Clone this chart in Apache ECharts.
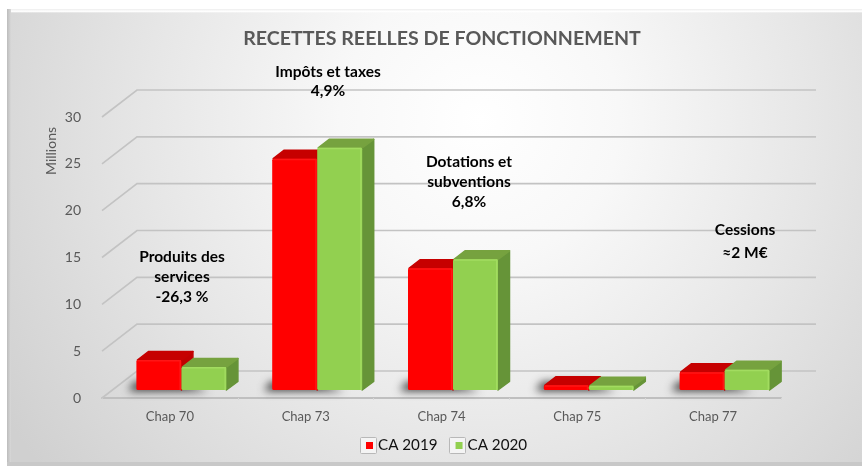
<!DOCTYPE html>
<html><head><meta charset="utf-8">
<style>html,body{margin:0;padding:0;background:#fff}#c{width:862px;height:466px}</style>
<script src="https://cdn.jsdelivr.net/npm/echarts@6/dist/echarts.min.js"></script>
</head><body><div id="c"></div>
<script>
const categories = ['Chap 70','Chap 73','Chap 74','Chap 75','Chap 77'];
const ca2019 = [3.2, 24.7, 13.0, 0.5, 1.9];
const ca2020 = [2.45, 25.85, 13.95, 0.45, 2.15];
const yTicks = [0, 5, 10, 15, 20, 25, 30];
const seriesNames = ['CA 2019', 'CA 2020'];
const titleText = 'RECETTES REELLES DE FONCTIONNEMENT';
const annotations = [
  {lines:['Impôts et taxes','4,9%'], x:328, y:[72,91]},
  {lines:['Dotations et','subventions','6,8%'], x:469, y:[162,182,202]},
  {lines:['Produits des','services','-26,3 %'], x:182, y:[257,277,297]},
  {lines:['Cessions','≈2 M€'], x:745, y:[230,253]}
];
const FONT = 'Lato, "Open Sans", sans-serif';
const DX = 35, DY = -27;          // wall depth
const BW = 45, BDX = 12, BDY = -9; // bar width and depth
const OX = 11.5, OY = -8;          // bar offset inside the floor

const palettes = [
  {front:'#ff0000', top:'#c60000', side:'#c00000', hi:'#ff1616'},
  {front:'#92d050', top:'#76a23f', side:'#669438', hi:'#a2dc60'}
];

function barItem(idx){
  return function(params, api){
    const cat = api.value(0), val = api.value(1);
    const pt = api.coord([cat, val]), base = api.coord([cat, 0]);
    const p = palettes[idx];
    const x = pt[0] + OX + (idx === 0 ? -BW : 0), w = BW;
    const y = pt[1] + OY, b = base[1] + OY, h = b - y;
    const sh = (pts, fill) => ({type:'polygon', shape:{points:pts},
      style:{fill:fill, stroke:fill, lineWidth:1.5, lineJoin:'round'}});
    return {type:'group', children:[
      sh([[x+w,y],[x+w+BDX-0.5,y+BDY+0.5],[x+w+BDX-0.5,b+BDY+0.5],[x+w,b]], p.side),
      sh([[x+1,y],[x+BDX,y+BDY+0.5],[x+w+BDX-0.5,y+BDY+0.5],[x+w,y]], p.top),
      {type:'rect', shape:{x:x,y:y,width:w,height:h,r:1.5}, style:{fill:p.front}},
      {type:'rect', shape:{x:x+1,y:y,width:w-2.5,height:Math.min(1.5,h)}, style:{fill:p.hi}},
      {type:'rect', shape:{x:x+w-2,y:y,width:1.5,height:h}, style:{fill:p.hi}}
    ]};
  };
}
function shadowItem(params, api){
  const base = api.coord([api.value(0), 0]);
  const x = base[0] + OX - BW, b = base[1] + OY;
  const far = 2000; // the shape itself sits off canvas: only its blurred shadow shows
  return {type:'polygon', silent:true,
    shape:{points:[[x-8-far,b+1],[x-2-far,b-8],[x+45-far,b-8],[x+72-far,b+1]]},
    style:{fill:'#000', shadowBlur:9, shadowOffsetX:far, shadowColor:'rgba(0,0,0,0.75)'}};
}
function gridItem(params, api){
  const c = params.coordSys;
  const y = api.coord([0, api.value(0)])[1];
  const x0 = c.x, x1 = c.x + c.width;
  return {type:'polyline', silent:true,
    shape:{points:[[x0,y],[x0+DX,y+DY],[x1+DX,y+DY]]},
    style:{fill:null, stroke:'#c3c3c3', lineWidth:1.6}};
}

const frame = [
  {type:'rect', z:-10, shape:{x:0,y:0,width:862,height:466}, style:{fill:'#ffffff'}},
  {type:'rect', z:-9, shape:{x:7,y:9,width:855,height:457}, style:{fill:{
    type:'radial', x:480, y:120, r:560, global:true,
    colorStops:[{offset:0,color:'#ffffff'},{offset:0.25,color:'#f8f8f8'},{offset:0.6,color:'#e6e6e6'},{offset:1,color:'#d0d0d0'}]
  }}},
  {type:'rect', z:-8, shape:{x:7,y:9,width:4,height:457}, style:{fill:{
    type:'linear', x:0,y:0,x2:1,y2:0,
    colorStops:[{offset:0,color:'#bcbcbc'},{offset:1,color:'#d8d8d8'}]}}},
  {type:'rect', z:-8, shape:{x:11,y:9,width:851,height:4}, style:{fill:{
    type:'linear', x:0,y:0,x2:0,y2:1,
    colorStops:[{offset:0,color:'#ededed'},{offset:0.6,color:'#ffffff'},{offset:1,color:'rgba(255,255,255,0)'}]}}},
  {type:'rect', z:-8, shape:{x:7,y:462,width:855,height:4}, style:{fill:'#c8c8c8'}},
  {type:'rect', z:-7, shape:{x:360.5,y:437.5,width:16,height:16,r:1}, style:{fill:'#f4f4f4', stroke:'#b8b8b8', lineWidth:1}},
  {type:'rect', z:-7, shape:{x:449.5,y:437.5,width:16,height:16,r:1}, style:{fill:'#f4f4f4', stroke:'#b8b8b8', lineWidth:1}},
  {type:'text', style:{text:'Millions', x:0, y:0, fill:'#595959', font:'14px '+FONT, align:'center', verticalAlign:'middle'},
    x:51, y:151, rotation:Math.PI/2}
];
annotations.forEach(a => a.lines.forEach((t,i) => frame.push({
  type:'text', z:20, style:{text:t, x:a.x, y:a.y[i], fill:'#000000', font:'bold 15.5px '+FONT, align:'center', verticalAlign:'middle'}
})));

const chart = echarts.init(document.getElementById('c'), null, {renderer:'canvas'});
chart.setOption({
  animation:false,
  backgroundColor:'#ffffff',
  title:{text:titleText, left:437, top:24, textAlign:'center',
    textStyle:{fontFamily:FONT, fontWeight:'bold', fontSize:19.6, color:'#595959'}},
  legend:{data:seriesNames, left:361, top:433, itemWidth:7, itemHeight:7, itemGap:18, icon:'rect',
    textStyle:{fontFamily:FONT, fontSize:15.2, color:'#111111', padding:[0,0,0,0]}},
  grid:{left:102, right:81, top:117, bottom:68, containLabel:false},
  xAxis:{type:'category', data:categories, boundaryGap:true,
    axisLine:{show:true, lineStyle:{color:'#bfbfbf', width:2}},
    axisTick:{show:true, inside:false, length:2, lineStyle:{color:'#d8d8d8'}},
    axisLabel:{fontFamily:FONT, fontSize:13, color:'#595959', margin:12}},
  yAxis:{type:'value', min:0, max:30, interval:5,
    axisLine:{show:false}, axisTick:{show:false}, splitLine:{show:false},
    axisLabel:{fontFamily:FONT, fontSize:14, color:'#595959', margin:21}},
  graphic:frame,
  series:[
    {type:'custom', name:'grid', data:yTicks.map(v=>[v]), renderItem:gridItem, encode:{y:0}, silent:true, z:1, clip:false},
    {type:'custom', name:'shadow', data:ca2019.map((v,i)=>[i,v]), renderItem:shadowItem, encode:{x:0,y:1}, silent:true, z:2, clip:false},
    {type:'custom', name:seriesNames[0], data:ca2019.map((v,i)=>[i,v]), renderItem:barItem(0), encode:{x:0,y:1}, itemStyle:{color:palettes[0].front}, z:3, clip:false},
    {type:'custom', name:seriesNames[1], data:ca2020.map((v,i)=>[i,v]), renderItem:barItem(1), encode:{x:0,y:1}, itemStyle:{color:palettes[1].front}, z:4, clip:false}
  ]
});
</script></body></html>
